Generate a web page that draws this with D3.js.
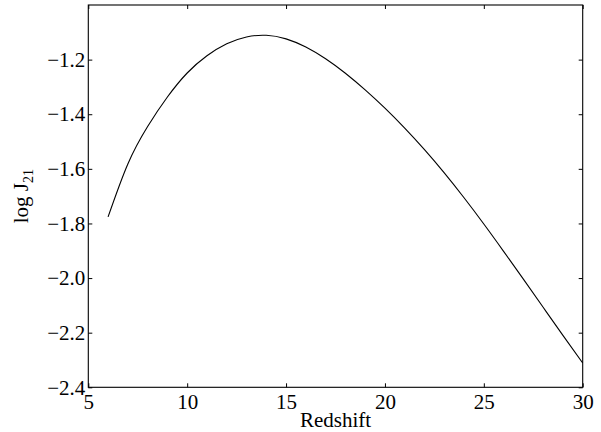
<!DOCTYPE html>
<html>
<head>
<meta charset="utf-8">
<script src="https://cdn.jsdelivr.net/npm/d3@7"></script>
<style>
  html, body { margin: 0; padding: 0; background: #fff; }
  svg text { font-family: "Liberation Serif", "DejaVu Serif", serif; fill: #000; }
</style>
</head>
<body>
<svg id="chart" width="601" height="432"></svg>
<script>
// Data
const redshift = [6, 7, 8, 9, 10, 11, 12, 13, 14, 15, 16, 17, 18, 19, 20, 21, 22, 23, 24, 25, 26, 27, 28, 29, 30];
const logJ21 = [-1.776, -1.582, -1.445, -1.337, -1.249, -1.186, -1.142, -1.117, -1.111, -1.124, -1.154, -1.197, -1.250, -1.311, -1.378, -1.451, -1.530, -1.615, -1.706, -1.802, -1.902, -2.004, -2.107, -2.210, -2.311];
const xTicks = [5, 10, 15, 20, 25, 30];
const yTicks = [-2.4, -2.2, -2.0, -1.8, -1.6, -1.4, -1.2];

const svg = d3.select("#chart");
const mLeft = 88.3, mRight = 582.7, mTop = 5, mBottom = 387.3;

const x = d3.scaleLinear().domain([5, 30]).range([mLeft, mRight]);
const y = d3.scaleLinear().domain([-2.4, -1.0]).range([mBottom, mTop]);

const fmtY = d => (d < 0 ? "\u2212" : "") + Math.abs(d).toFixed(1);

const tickLen = 4;
const g = svg.append("g");

const bAxis = g.append("g").attr("transform", `translate(0,${mBottom})`)
  .call(d3.axisBottom(x).tickValues(xTicks).tickSizeInner(-tickLen).tickSizeOuter(0).tickPadding(7).tickFormat(d3.format("d")));
const tAxis = g.append("g").attr("transform", `translate(0,${mTop})`)
  .call(d3.axisTop(x).tickValues(xTicks).tickSizeInner(-tickLen).tickSizeOuter(0).tickFormat(""));
const lAxis = g.append("g").attr("transform", `translate(${mLeft},0)`)
  .call(d3.axisLeft(y).tickValues(yTicks).tickSizeInner(-tickLen).tickSizeOuter(0).tickPadding(3).tickFormat(fmtY));
const rAxis = g.append("g").attr("transform", `translate(${mRight},0)`)
  .call(d3.axisRight(y).tickValues(yTicks).tickSizeInner(-tickLen).tickSizeOuter(0).tickFormat(""));

[bAxis, tAxis, lAxis, rAxis].forEach(a => {
  a.select(".domain").remove();
  a.selectAll(".tick line").attr("stroke", "#000").attr("stroke-width", 1);
  a.selectAll("text").attr("font-size", 21).attr("font-family", "Liberation Serif, DejaVu Serif, serif");
});

svg.append("rect")
  .attr("x", mLeft).attr("y", mTop)
  .attr("width", mRight - mLeft).attr("height", mBottom - mTop)
  .attr("fill", "none").attr("stroke", "#000").attr("stroke-width", 1.1);

const line = d3.line()
  .x((d, i) => x(redshift[i]))
  .y(d => y(d))
  .curve(d3.curveNatural);

svg.append("path")
  .datum(logJ21)
  .attr("d", line)
  .attr("fill", "none")
  .attr("stroke", "#000")
  .attr("stroke-width", 1.1);

svg.append("text")
  .attr("x", (mLeft + mRight) / 2).attr("y", 427)
  .attr("text-anchor", "middle").attr("font-size", 21)
  .text("Redshift");

const yl = svg.append("text")
  .attr("transform", `translate(28,${(mTop + mBottom) / 2}) rotate(-90)`)
  .attr("text-anchor", "middle").attr("font-size", 21);
yl.append("tspan").text("log J");
yl.append("tspan").attr("font-size", 14).attr("dy", 5).text("21");
</script>
</body>
</html>
